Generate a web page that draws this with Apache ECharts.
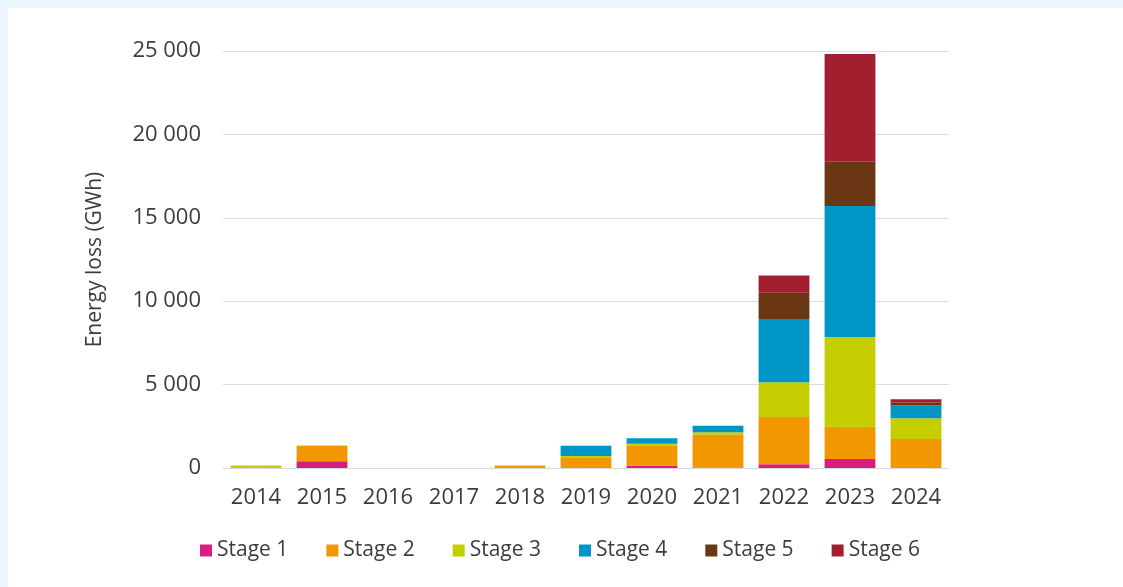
<!DOCTYPE html>
<html>
<head>
<meta charset="utf-8">
<script src="https://cdn.jsdelivr.net/npm/echarts@6/dist/echarts.min.js"></script>
<style>
	html, body { margin: 0; padding: 0; background: #eaf5fc; }
	#chart { position: absolute; left: 8px; top: 8px; width: 1115px; height: 579px; background: #ffffff; }
</style>
</head>
<body>
<div id="chart"></div>
<script>
// years
var years = ['2014', '2015', '2016', '2017', '2018', '2019', '2020', '2021', '2022', '2023', '2024'];
// energy loss per stage (GWh)
var stage1 = [0, 400, 0, 0, 0, 0, 140, 30, 220, 540, 0];
var stage2 = [0, 930, 0, 0, 150, 640, 1220, 1960, 2840, 1940, 1740];
var stage3 = [150, 20, 0, 0, 0, 80, 100, 160, 2080, 5370, 1240];
var stage4 = [0, 0, 0, 0, 0, 620, 320, 380, 3800, 7850, 760];
var stage5 = [0, 0, 0, 0, 0, 0, 0, 0, 1560, 2660, 180];
var stage6 = [0, 0, 0, 0, 0, 0, 0, 0, 1040, 6460, 200];

var stageNames = ['Stage 1', 'Stage 2', 'Stage 3', 'Stage 4', 'Stage 5', 'Stage 6'];
var stageColors = ['#d91e7f', '#f39700', '#c3cd00', '#0097c8', '#6a3614', '#a11f2e'];
var stageData = [stage1, stage2, stage3, stage4, stage5, stage6];

var FONT = 'Open Sans';
var TXT = '#3c3c3c';

var myChart = echarts.init(document.getElementById('chart'));

var series = [];
for (var i = 0; i < stageNames.length; i++) {
	series.push({
		name: stageNames[i],
		type: 'bar',
		stack: 'total',
		barCategoryGap: '23%',
		itemStyle: { color: stageColors[i] },
		data: stageData[i]
	});
}

var option = {
	animation: false,
	color: stageColors,
	textStyle: { fontFamily: FONT },
	grid: { left: 215, top: 43, width: 726, height: 417, containLabel: false },
	legend: {
		left: 187,
		top: 527,
		itemWidth: 12,
		itemHeight: 12,
		itemGap: 38,
		icon: 'rect',
		textStyle: { fontFamily: FONT, fontSize: 21, color: TXT },
		data: stageNames
	},
	xAxis: {
		type: 'category',
		data: years,
		axisLine: { lineStyle: { color: '#d9d9d9', width: 1 } },
		axisTick: { show: false },
		axisLabel: { fontFamily: FONT, fontSize: 22, color: TXT, margin: 19 }
	},
	yAxis: {
		type: 'value',
		min: 0,
		max: 25000,
		interval: 5000,
		name: 'Energy loss (GWh)',
		nameLocation: 'middle',
		nameGap: 117,
		nameRotate: 90,
		nameTextStyle: { fontFamily: FONT, fontSize: 21, color: TXT },
		axisLine: { show: false },
		axisTick: { show: false },
		splitLine: { lineStyle: { color: '#dcdcdc', width: 1 } },
		axisLabel: {
			fontFamily: FONT,
			fontSize: 22,
			color: TXT,
			margin: 22,
			formatter: function(v) {
				return String(v).replace(/\B(?=(\d{3})+(?!\d))/g, ' ');
			}
		}
	},
	series: series
};

myChart.setOption(option);
</script>
</body>
</html>
